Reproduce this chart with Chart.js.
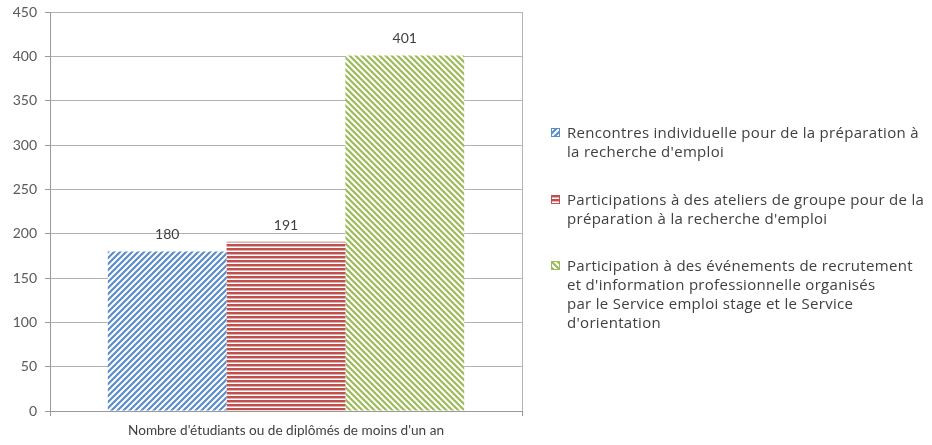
<!DOCTYPE html>
<html>
<head>
<meta charset="utf-8">
<script src="https://cdn.jsdelivr.net/npm/chart.js@4/dist/chart.umd.min.js"></script>
<style>
  body { margin: 0; background: #fff; }
  #wrap { position: relative; width: 932px; height: 445px; }
  #legend { position: absolute; left: 551px; top: 0; font-family: "Open Sans", sans-serif; font-size: 15px; letter-spacing: 0.3px; color: #404040; }
  .item { position: absolute; left: 0; white-space: nowrap; line-height: 19px; }
  .item canvas { position: absolute; left: 0; top: 5px; }
  .item div { margin-left: 16px; }
</style>
</head>
<body>
<div id="wrap">
  <canvas id="chart" width="932" height="445"></canvas>
  <div id="legend"></div>
</div>
<script>
const categories = ["Nombre d'étudiants ou de diplômés de moins d'un an"];
const seriesLabels = [
  ["Rencontres individuelle pour de la préparation à", "la recherche d'emploi"],
  ["Participations à des ateliers de groupe pour de la", "préparation à la recherche d'emploi"],
  ["Participation à des événements de recrutement", "et d'information professionnelle organisés", "par le Service emploi stage et le Service", "d'orientation"]
];
const rencontres = [180];
const ateliers = [191];
const evenements = [401];
const yTicks = { min: 0, max: 450, step: 50 };

const legendTops = [123, 190, 256];

function makePattern(kind, color) {
  const tile = document.createElement("canvas");
  const size = kind === "horiz" ? 4 : 6;
  tile.width = size;
  tile.height = size;
  const c = tile.getContext("2d");
  c.fillStyle = "#fff";
  c.fillRect(0, 0, size, size);
  if (kind === "horiz") {
    c.fillStyle = color;
    c.fillRect(0, 0, size, 2);
    c.fillStyle = "rgba(192,80,77,0.45)";
    c.fillRect(0, 2, size, 1);
  } else {
    c.strokeStyle = color;
    c.lineWidth = 2.2;
    c.beginPath();
    if (kind === "up") {
      c.moveTo(-1, size + 1); c.lineTo(size + 1, -1);
      c.moveTo(-1, 1); c.lineTo(1, -1);
      c.moveTo(size - 1, size + 1); c.lineTo(size + 1, size - 1);
    } else {
      c.moveTo(-1, -1); c.lineTo(size + 1, size + 1);
      c.moveTo(-1, size - 1); c.lineTo(1, size + 1);
      c.moveTo(size - 1, -1); c.lineTo(size + 1, 1);
    }
    c.stroke();
  }
  return tile;
}

const styles = [
  { kind: "up", color: "#5b8ccb" },
  { kind: "horiz", color: "#c0504d" },
  { kind: "down", color: "#9bbb59" }
];

const ctx = document.getElementById("chart").getContext("2d");
const fills = styles.map((s) => ctx.createPattern(makePattern(s.kind, s.color), "repeat"));

const valueLabels = {
  id: "valueLabels",
  afterDatasetsDraw(chart) {
    const c = chart.ctx;
    c.save();
    c.font = "14px Lato";
    c.fillStyle = "#404040";
    c.textAlign = "center";
    c.textBaseline = "alphabetic";
    chart.data.datasets.forEach((ds, i) => {
      chart.getDatasetMeta(i).data.forEach((bar, j) => {
        c.fillText(ds.data[j], bar.x, bar.y - 12);
      });
    });
    c.restore();
  }
};

new Chart(ctx, {
  type: "bar",
  data: {
    labels: categories,
    datasets: [
      { label: seriesLabels[0].join(" "), data: rencontres, backgroundColor: fills[0] },
      { label: seriesLabels[1].join(" "), data: ateliers, backgroundColor: fills[1] },
      { label: seriesLabels[2].join(" "), data: evenements, backgroundColor: fills[2] }
    ]
  },
  options: {
    responsive: false,
    animation: false,
    categoryPercentage: 0.755,
    barPercentage: 1,
    layout: { padding: { top: 12, right: 410, left: 0, bottom: 0 } },
    plugins: { legend: { display: false }, tooltip: { enabled: false } },
    scales: {
      x: {
        grid: { offset: true, color: "#b3b3b3", tickLength: 5, tickColor: "#999" },
        border: { color: "#999" },
        ticks: { font: { family: "Lato", size: 13.6 }, color: "#404040", padding: 6 },
        afterFit: (scale) => { scale.height = 34; }
      },
      y: {
        min: yTicks.min,
        max: yTicks.max,
        ticks: { stepSize: yTicks.step, font: { family: "Lato", size: 14 }, color: "#595959", padding: 8 },
        grid: { color: "#b3b3b3", tickLength: 5, tickColor: "#999" },
        border: { color: "#999" },
        afterFit: (scale) => {
          scale.width = 50;
          scale.paddingTop = 0;
          scale.paddingBottom = 0;
        }
      }
    }
  },
  plugins: [valueLabels]
});

const legend = document.getElementById("legend");
seriesLabels.forEach((lines, i) => {
  const item = document.createElement("div");
  item.className = "item";
  item.style.top = legendTops[i] + "px";
  const sw = document.createElement("canvas");
  sw.width = 9;
  sw.height = 9;
  const sc = sw.getContext("2d");
  sc.fillStyle = sc.createPattern(makePattern(styles[i].kind, styles[i].color), "repeat");
  sc.fillRect(0, 0, 9, 9);
  sc.strokeStyle = styles[i].color;
  sc.strokeRect(0.5, 0.5, 8, 8);
  item.appendChild(sw);
  const text = document.createElement("div");
  text.innerHTML = lines.join("<br>");
  item.appendChild(text);
  legend.appendChild(item);
});
</script>
</body>
</html>
